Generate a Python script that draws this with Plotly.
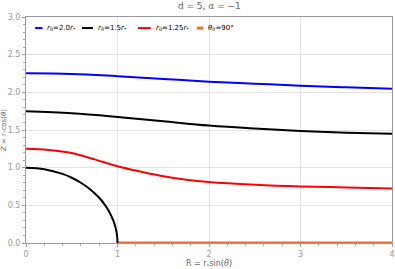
import plotly.graph_objects as go

# Data
R_grid = [0.0, 0.5, 1.0, 1.5, 2.0, 2.5, 3.0, 3.5, 4.0]
z_r20 = [2.254, 2.245, 2.214, 2.178, 2.142, 2.115, 2.088, 2.067, 2.048]
z_r15 = [1.750, 1.723, 1.674, 1.616, 1.559, 1.519, 1.487, 1.465, 1.451]

R_red = [0.0, 0.25, 0.5, 0.75, 1.0, 1.25, 1.5, 1.75, 2.0, 2.5, 3.0, 3.5, 4.0]
z_r125 = [1.251, 1.235, 1.195, 1.110, 1.019, 0.948, 0.885, 0.841, 0.810, 0.774, 0.751, 0.738, 0.725]

R_star = [0.0, 0.2, 0.4, 0.5, 0.6, 0.7, 0.8, 0.85, 0.9, 0.95, 0.98, 0.995, 1.0]
Z_star = [1.0, 0.980, 0.917, 0.866, 0.800, 0.714, 0.600, 0.527, 0.436, 0.312, 0.199, 0.100, 0.0]

R_eq = [1.0, 4.0]
Z_eq = [0.0, 0.0]

names = ["<i>r</i><sub>0</sub>=2.0<i>r</i><sub>*</sub>",
         "<i>r</i><sub>0</sub>=1.5<i>r</i><sub>*</sub>",
         "<i>r</i><sub>0</sub>=1.25<i>r</i><sub>*</sub>",
         "<i>θ</i><sub>0</sub>=90°"]
colors = ["#0000ff", "#000000", "#ff0000", "#ee6a3c"]

fig = go.Figure()
fig.add_trace(go.Scatter(x=R_grid, y=z_r20, mode="lines", name=names[0],
                         line=dict(color=colors[0], width=2, shape="spline")))
fig.add_trace(go.Scatter(x=R_grid, y=z_r15, mode="lines", name=names[1],
                         line=dict(color=colors[1], width=2, shape="spline")))
fig.add_trace(go.Scatter(x=R_red, y=z_r125, mode="lines", name=names[2],
                         line=dict(color=colors[2], width=2, shape="spline")))
fig.add_trace(go.Scatter(x=R_eq, y=Z_eq, mode="lines", name=names[3],
                         line=dict(color=colors[3], width=3)))
fig.add_trace(go.Scatter(x=R_star, y=Z_star, mode="lines", showlegend=False,
                         line=dict(color="#000000", width=2, shape="spline")))

# compact legend drawn as paper-referenced swatches + labels
leg_x0 = [0.025, 0.153, 0.306, 0.467]
leg_len = [0.020, 0.030, 0.035, 0.017]
leg_y = 0.951
for xs, ln, c, w, nm in zip(leg_x0, leg_len, colors, [2, 2, 2, 3], names):
    fig.add_shape(type="line", xref="paper", yref="paper", x0=xs, x1=xs + ln,
                  y0=leg_y, y1=leg_y, line=dict(color=c, width=w))
    fig.add_annotation(xref="paper", yref="paper", x=xs + ln + 0.008, y=leg_y,
                       xanchor="left", yanchor="middle", text=nm, showarrow=False,
                       font=dict(size=7, color="#000000"))

axis_common = dict(showline=True, linecolor="#999999", linewidth=1, mirror=True,
                   gridcolor="#e3e3e3", gridwidth=1, zeroline=False, automargin=False,
                   ticks="outside", ticklen=3, tickcolor="#999999",
                   tickfont=dict(size=8, color="#999999"))

fig.update_layout(
    width=395, height=269,
    margin=dict(l=26, r=3, t=17, b=26),
    paper_bgcolor="white", plot_bgcolor="white",
    font=dict(family="DejaVu Sans", color="#666666", size=8),
    title=dict(text="d = 5, α = −1", x=0.53, xanchor="center", y=0.99, yanchor="top",
               font=dict(size=9, color="#666666")),
    showlegend=False,
    xaxis=dict(range=[0, 4], tickvals=[0, 1, 2, 3, 4], ticktext=["0", "1", "2", "3", "4"],
               title=dict(text="R = r<sub>*</sub>sin(<i>θ</i>)", font=dict(size=8, color="#666666"), standoff=4),
               minor=dict(dtick=0.2, ticks="outside", ticklen=2, tickcolor="#aaaaaa", showgrid=False),
               **axis_common),
    yaxis=dict(range=[0, 3], tickvals=[0, 0.5, 1, 1.5, 2, 2.5, 3],
               ticktext=["0.0", "0.5", "1.0", "1.5", "2.0", "2.5", "3.0"],
               title=dict(text="Z = r<sub>*</sub>cos(<i>θ</i>)", font=dict(size=7, color="#666666"), standoff=2),
               minor=dict(dtick=0.1, ticks="outside", ticklen=2, tickcolor="#aaaaaa", showgrid=False),
               **axis_common),
)

fig.write_html("out.html", config={"displayModeBar": False},
               post_script="document.body.style.margin='0';document.body.style.padding='0';")
